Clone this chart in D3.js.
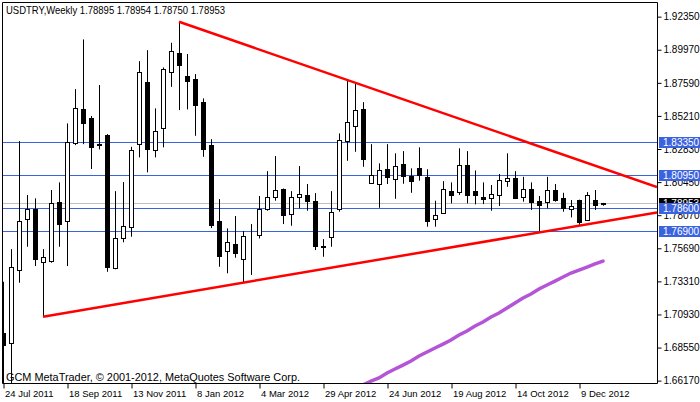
<!DOCTYPE html>
<html><head><meta charset="utf-8">
<script src="https://cdn.jsdelivr.net/npm/d3@7"></script>
<style>
html,body{margin:0;padding:0;background:#fff;}
svg{display:block;font-family:"Liberation Sans",Arial,sans-serif;}
</style></head>
<body>
<svg id="c" width="700" height="402"></svg>
<script>
// ---- data (weekly USDTRY candles, index 0 = week of 24 Jul 2011) ----
const opens  = [1.6962,1.6885,1.7412,1.7777,1.7851,1.7472,1.7479,1.7899,1.7767,1.8328,1.8570,1.8503,1.8322,1.8383,1.7429,1.7640,1.7724,1.8316,1.8762,1.8273,1.8431,1.8834,1.8971,1.8807,1.8784,1.8618,1.8311,1.7765,1.7551,1.7599,1.7489,1.7657,1.7662,1.7853,1.7940,1.7993,1.7813,1.7935,1.7950,1.7906,1.7580,1.7648,1.7849,1.8338,1.8446,1.8568,1.8040,1.8033,1.8137,1.8065,1.8172,1.8086,1.8146,1.8083,1.7781,1.7824,1.7980,1.7975,1.8167,1.7980,1.7937,1.7932,1.7954,1.8055,1.8074,1.7935,1.7995,1.7909,1.7899,1.7988,1.7928,1.7849,1.7916,1.7770,1.7914,1.78895];
const highs  = [1.7328,1.7563,1.8340,1.7952,1.7928,1.7563,1.7988,1.8043,1.8467,1.8714,1.9071,1.8520,1.8743,1.8390,1.7980,1.8045,1.8299,1.8915,1.8994,1.8575,1.8870,1.9047,1.9198,1.8966,1.8822,1.8647,1.8354,1.7923,1.7712,1.7801,1.7693,1.7743,1.7945,1.8124,1.8232,1.7999,1.7980,1.8160,1.8031,1.7966,1.7635,1.7980,1.8395,1.8774,1.8755,1.8620,1.8318,1.8180,1.8318,1.8252,1.8268,1.8144,1.8295,1.8137,1.7911,1.8052,1.8043,1.8288,1.8268,1.8129,1.8043,1.8024,1.8103,1.8252,1.8124,1.8083,1.8043,1.7945,1.8083,1.8031,1.7968,1.7916,1.7919,1.7973,1.7988,1.78954];
const lows   = [1.6550,1.6500,1.7321,1.7580,1.7441,1.7077,1.7465,1.7580,1.7441,1.8311,1.8318,1.8139,1.8280,1.7400,1.7418,1.7612,1.7652,1.8223,1.8115,1.8223,1.8295,1.8730,1.8563,1.8568,1.8378,1.8227,1.7714,1.7436,1.7389,1.7501,1.7324,1.7377,1.7640,1.7839,1.7911,1.7743,1.7731,1.7856,1.7839,1.7556,1.7508,1.7580,1.7832,1.8198,1.8263,1.8155,1.8035,1.7860,1.8031,1.7925,1.8033,1.7968,1.8055,1.7724,1.7724,1.7820,1.7892,1.7952,1.7892,1.7885,1.7887,1.7839,1.7873,1.8011,1.7923,1.7904,1.7844,1.7688,1.7856,1.7904,1.7832,1.7791,1.7736,1.7767,1.7844,1.78750];
const closes = [1.6873,1.7432,1.7767,1.7851,1.7489,1.7504,1.7892,1.7741,1.8335,1.8575,1.8467,1.8299,1.8311,1.7432,1.7640,1.7731,1.8273,1.8834,1.8280,1.8410,1.8855,1.8989,1.8884,1.8774,1.8601,1.8280,1.7740,1.7515,1.7612,1.7533,1.7655,1.7660,1.7853,1.7937,1.7986,1.7810,1.7935,1.7957,1.7911,1.7587,1.7582,1.7827,1.8345,1.8474,1.8561,1.8213,1.8093,1.8131,1.8079,1.8158,1.8088,1.8055,1.8096,1.7767,1.7806,1.7993,1.7954,1.8167,1.7954,1.7950,1.7925,1.7957,1.8060,1.8072,1.7930,1.7993,1.7904,1.7882,1.7986,1.7916,1.7860,1.7875,1.7758,1.7950,1.7882,1.78953];

// moving average line (starts at bar index 45)
const maStart = 45;
const maValues = [1.6586,1.6614,1.6636,1.6672,1.6701,1.6729,1.6758,1.6794,1.6823,1.6852,1.6880,1.6909,1.6945,1.6974,1.7010,1.7039,1.7075,1.7103,1.7139,1.7175,1.7211,1.7240,1.7276,1.7305,1.7333,1.7362,1.7391,1.7412,1.7434,1.7456,1.7477];

// trend lines: [barIndex, price] pairs
const upperTrend = [[22, 1.9198], [81.75, 1.8009]];
const lowerTrend = [[5, 1.7077], [81.75, 1.7827]];

// horizontal levels
const hLevels = [1.83350, 1.80950, 1.78600, 1.76900];
const lastPrice = 1.78953;

const yTicks = [1.92350,1.89970,1.87590,1.85210,1.82830,1.80450,1.78070,1.75690,1.73310,1.70930,1.68550,1.66170];
const xTickIdx = [0,8,16,24,32,40,48,56,64,72];
const xTickLabels = ["24 Jul 2011","18 Sep 2011","13 Nov 2011","8 Jan 2012","4 Mar 2012","29 Apr 2012","24 Jun 2012","19 Aug 2012","14 Oct 2012","9 Dec 2012"];

const titleText = "USDTRY,Weekly  1.78895 1.78954 1.78750 1.78953";
const footText = "GCM MetaTrader, \u00A9 2001-2012, MetaQuotes Software Corp.";

// ---- layout ----
const L = 2, R = 657, T = 2, B = 383;
const svg = d3.select("#c");
const x = d3.scaleLinear().domain([0, 81.75]).range([3, 657]);
const y = d3.scaleLinear().domain([1.6600, 1.9326]).range([383, 4]);

svg.append("defs").append("clipPath").attr("id","plot")
  .append("rect").attr("x",L).attr("y",T).attr("width",R-L).attr("height",B-T);

const g = svg.append("g").attr("clip-path","url(#plot)");

// horizontal lines
g.append("line").attr("x1",L).attr("x2",R)
  .attr("y1",Math.round(y(lastPrice))+0.5).attr("y2",Math.round(y(lastPrice))+0.5)
  .attr("stroke","#c0c0c0").attr("stroke-width",1);
g.selectAll("line.lvl").data(hLevels).join("line").attr("class","lvl")
  .attr("x1",L).attr("x2",R)
  .attr("y1",d=>Math.round(y(d))+0.5).attr("y2",d=>Math.round(y(d))+0.5)
  .attr("stroke","#3b63e0").attr("stroke-width",1);

// candles
const idx = d3.range(opens.length);
const cg = g.append("g");
cg.selectAll("line.wick").data(idx).join("line").attr("class","wick")
  .attr("x1",i=>x(i)+0.5).attr("x2",i=>x(i)+0.5)
  .attr("y1",i=>y(highs[i])).attr("y2",i=>y(lows[i]))
  .attr("stroke","#000").attr("stroke-width",1);
cg.selectAll("rect.body").data(idx).join("rect").attr("class","body")
  .attr("x",i=>x(i)-1.5)
  .attr("width",4)
  .attr("y",i=>Math.round(y(Math.max(opens[i],closes[i])))+0.5)
  .attr("height",i=>Math.max(0,Math.round(y(Math.min(opens[i],closes[i])))-Math.round(y(Math.max(opens[i],closes[i])))))
  .attr("fill",i=>closes[i]>=opens[i]?"#fff":"#000")
  .attr("stroke","#000").attr("stroke-width",1);

// trend lines
const lineGen = d3.line().x(d=>x(d[0])).y(d=>y(d[1]));
g.append("path").attr("d",lineGen(upperTrend)).attr("fill","none").attr("stroke","#ff0000").attr("stroke-width",2.5);
g.append("path").attr("d",lineGen(lowerTrend)).attr("fill","none").attr("stroke","#ff0000").attr("stroke-width",2.5);

// moving average
g.append("path").attr("d",lineGen(maValues.map((v,k)=>[maStart+k,v])))
  .attr("fill","none").attr("stroke","#b455d8").attr("stroke-width",3.5).attr("stroke-linecap","round");

// frame
svg.append("path").attr("d",`M${L+0.5},${T+0.5}H${R+0.5}V${B+0.5}H${L+0.5}Z`)
  .attr("fill","none").attr("stroke","#000").attr("stroke-width",1);

// right axis
const ya = d3.axisRight(y).tickValues(yTicks).tickFormat(d3.format(".5f")).tickSize(4).tickSizeOuter(0);
const yag = svg.append("g").attr("transform",`translate(${R+0.5},0)`).call(ya);
yag.select(".domain").remove();
yag.selectAll("text").attr("x",6).attr("font-size","10px").attr("font-family","Liberation Sans, Arial, sans-serif").attr("fill","#000");
yag.selectAll(".tick line").attr("stroke","#000");

// bottom axis
const xa = d3.axisBottom(x).tickValues(xTickIdx).tickFormat((d,i)=>xTickLabels[i]).tickSize(5).tickSizeOuter(0);
const xag = svg.append("g").attr("transform",`translate(0.5,${B+0.5})`).call(xa);
xag.select(".domain").remove();
xag.selectAll("text").attr("text-anchor","start").attr("x",1).attr("y",7)
  .attr("font-size","9.5px").attr("font-family","Liberation Sans, Arial, sans-serif").attr("fill","#000");
xag.selectAll(".tick line").attr("stroke","#000");

// price labels on axis
function priceBox(v, bg){
  const yy = Math.round(y(v));
  svg.append("rect").attr("x",R+2).attr("y",yy-5).attr("width",700-R-2).attr("height",11).attr("fill",bg);
  svg.append("text").attr("x",R+6).attr("y",yy+4).attr("font-size","10px").attr("fill","#fff")
    .text(d3.format(".5f")(v));
}
priceBox(lastPrice, "#000");
hLevels.forEach(v=>priceBox(v, "#3b63e0"));

// title and footer
svg.append("text").attr("x",6).attr("y",14).attr("font-size","10.5px").attr("fill","#000")
  .attr("textLength",219).attr("lengthAdjust","spacingAndGlyphs").text(titleText);
svg.append("text").attr("x",6).attr("y",381).attr("font-size","10.5px").attr("fill","#000")
  .attr("textLength",294).attr("lengthAdjust","spacingAndGlyphs").text(footText);
</script>
</body></html>
